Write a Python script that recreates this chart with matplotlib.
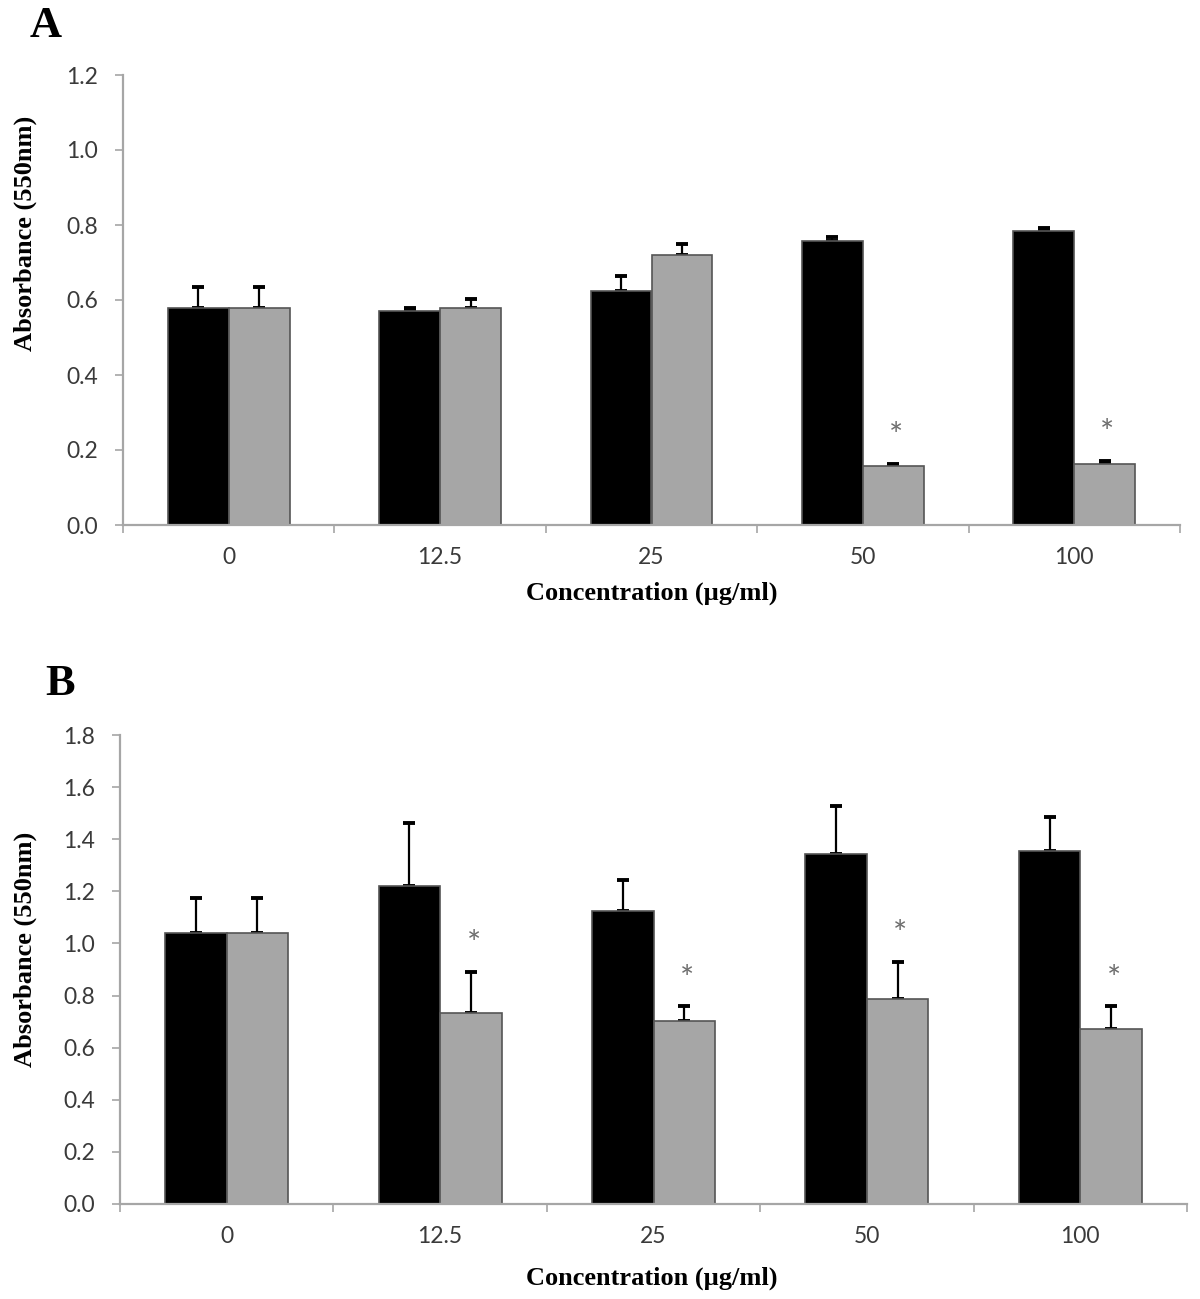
import matplotlib
matplotlib.use("Agg")
import matplotlib.pyplot as plt
import numpy as np

categories = ["0", "12.5", "25", "50", "100"]

# Panel A
a_black = [0.578, 0.571, 0.625, 0.758, 0.785]
a_black_err = [0.057, 0.007, 0.040, 0.010, 0.007]
a_gray = [0.578, 0.578, 0.720, 0.158, 0.163]
a_gray_err = [0.057, 0.026, 0.030, 0.006, 0.009]
a_star = [False, False, False, True, True]

# Panel B
b_black = [1.040, 1.220, 1.125, 1.343, 1.355]
b_black_err = [0.134, 0.243, 0.120, 0.184, 0.131]
b_gray = [1.040, 0.734, 0.702, 0.787, 0.672]
b_gray_err = [0.134, 0.157, 0.056, 0.143, 0.088]
b_star = [False, True, True, True, True]

serif = ["Liberation Serif", "DejaVu Serif"]
sans = ["Lato", "DejaVu Sans"]

W, H = 1200, 1299
fig = plt.figure(figsize=(W / 100, H / 100), dpi=100)
fig.patch.set_facecolor("white")

AXCOL = "#A6A6A6"
TXTCOL = "#3A3A3A"


def panel(rect, black, black_err, gray, gray_err, stars, ymax, letter, letter_xy, ylab_y, xlab_y):
    ax = fig.add_axes(rect)
    n = len(categories)
    x = np.arange(n) + 0.5
    w = 0.288
    ax.bar(x - w / 2, black, w, color="black", edgecolor="#555555", linewidth=1.2, zorder=2)
    ax.bar(x + w / 2, gray, w, color="#A6A6A6", edgecolor="#555555", linewidth=1.2, zorder=2)
    ax.errorbar(x - w / 2, black, yerr=[np.zeros(n), black_err], fmt="none",
                ecolor="black", elinewidth=1.6, capsize=4.5, capthick=2.8, zorder=1)
    ax.errorbar(x + w / 2, gray, yerr=[np.zeros(n), gray_err], fmt="none",
                ecolor="black", elinewidth=1.6, capsize=4.5, capthick=2.8, zorder=1)
    for i in range(n):
        if stars[i]:
            ax.annotate("*", (x[i] + w / 2, gray[i] + gray_err[i]), xytext=(2, 19),
                        textcoords="offset points", ha="center", va="center",
                        fontsize=24, color="#6E6E6E", family=sans)
    ax.set_xlim(0, n)
    ax.set_ylim(0, ymax)
    ax.set_yticks(np.arange(0, ymax + 0.001, 0.2))
    ax.set_yticklabels([f"{v:.1f}" for v in np.arange(0, ymax + 0.001, 0.2)],
                       family=sans, fontsize=16.5, color=TXTCOL)
    ax.set_xticks(np.arange(0, n + 1))
    ax.set_xticklabels([])
    ax.set_xticks(x, minor=True)
    ax.set_xticklabels(categories, minor=True, family=sans, fontsize=16.5, color=TXTCOL)
    ax.tick_params(axis="x", which="minor", length=0, pad=16)
    ax.tick_params(axis="x", which="major", length=6, width=1.2, color=AXCOL, direction="out")
    ax.tick_params(axis="y", length=6, width=1.2, color=AXCOL, direction="out", pad=12)
    for s in ["top", "right"]:
        ax.spines[s].set_visible(False)
    for s in ["left", "bottom"]:
        ax.spines[s].set_color(AXCOL)
        ax.spines[s].set_linewidth(1.6)
    fig.text(letter_xy[0] / W, 1 - letter_xy[1] / H, letter, family=serif,
             fontweight="bold", fontsize=32, ha="center", va="center")
    fig.text(25 / W, 1 - ylab_y / H, "Absorbance (550nm)", family=serif, fontweight="bold",
             fontsize=19, rotation=90, ha="center", va="center")
    fig.text(652 / W, 1 - xlab_y / H, "Concentration (µg/ml)", family=serif,
             fontweight="bold", fontsize=19, ha="center", va="center")
    return ax


panel([123 / W, 1 - 525 / H, 1057 / W, 450 / H], a_black, a_black_err, a_gray, a_gray_err,
      a_star, 1.2, "A", (46, 26), 233, 593)
panel([120 / W, 1 - 1204 / H, 1067 / W, 469 / H], b_black, b_black_err, b_gray, b_gray_err,
      b_star, 1.8, "B", (60, 684), 949, 1278)

fig.savefig("out.png", dpi=100, facecolor="white")
